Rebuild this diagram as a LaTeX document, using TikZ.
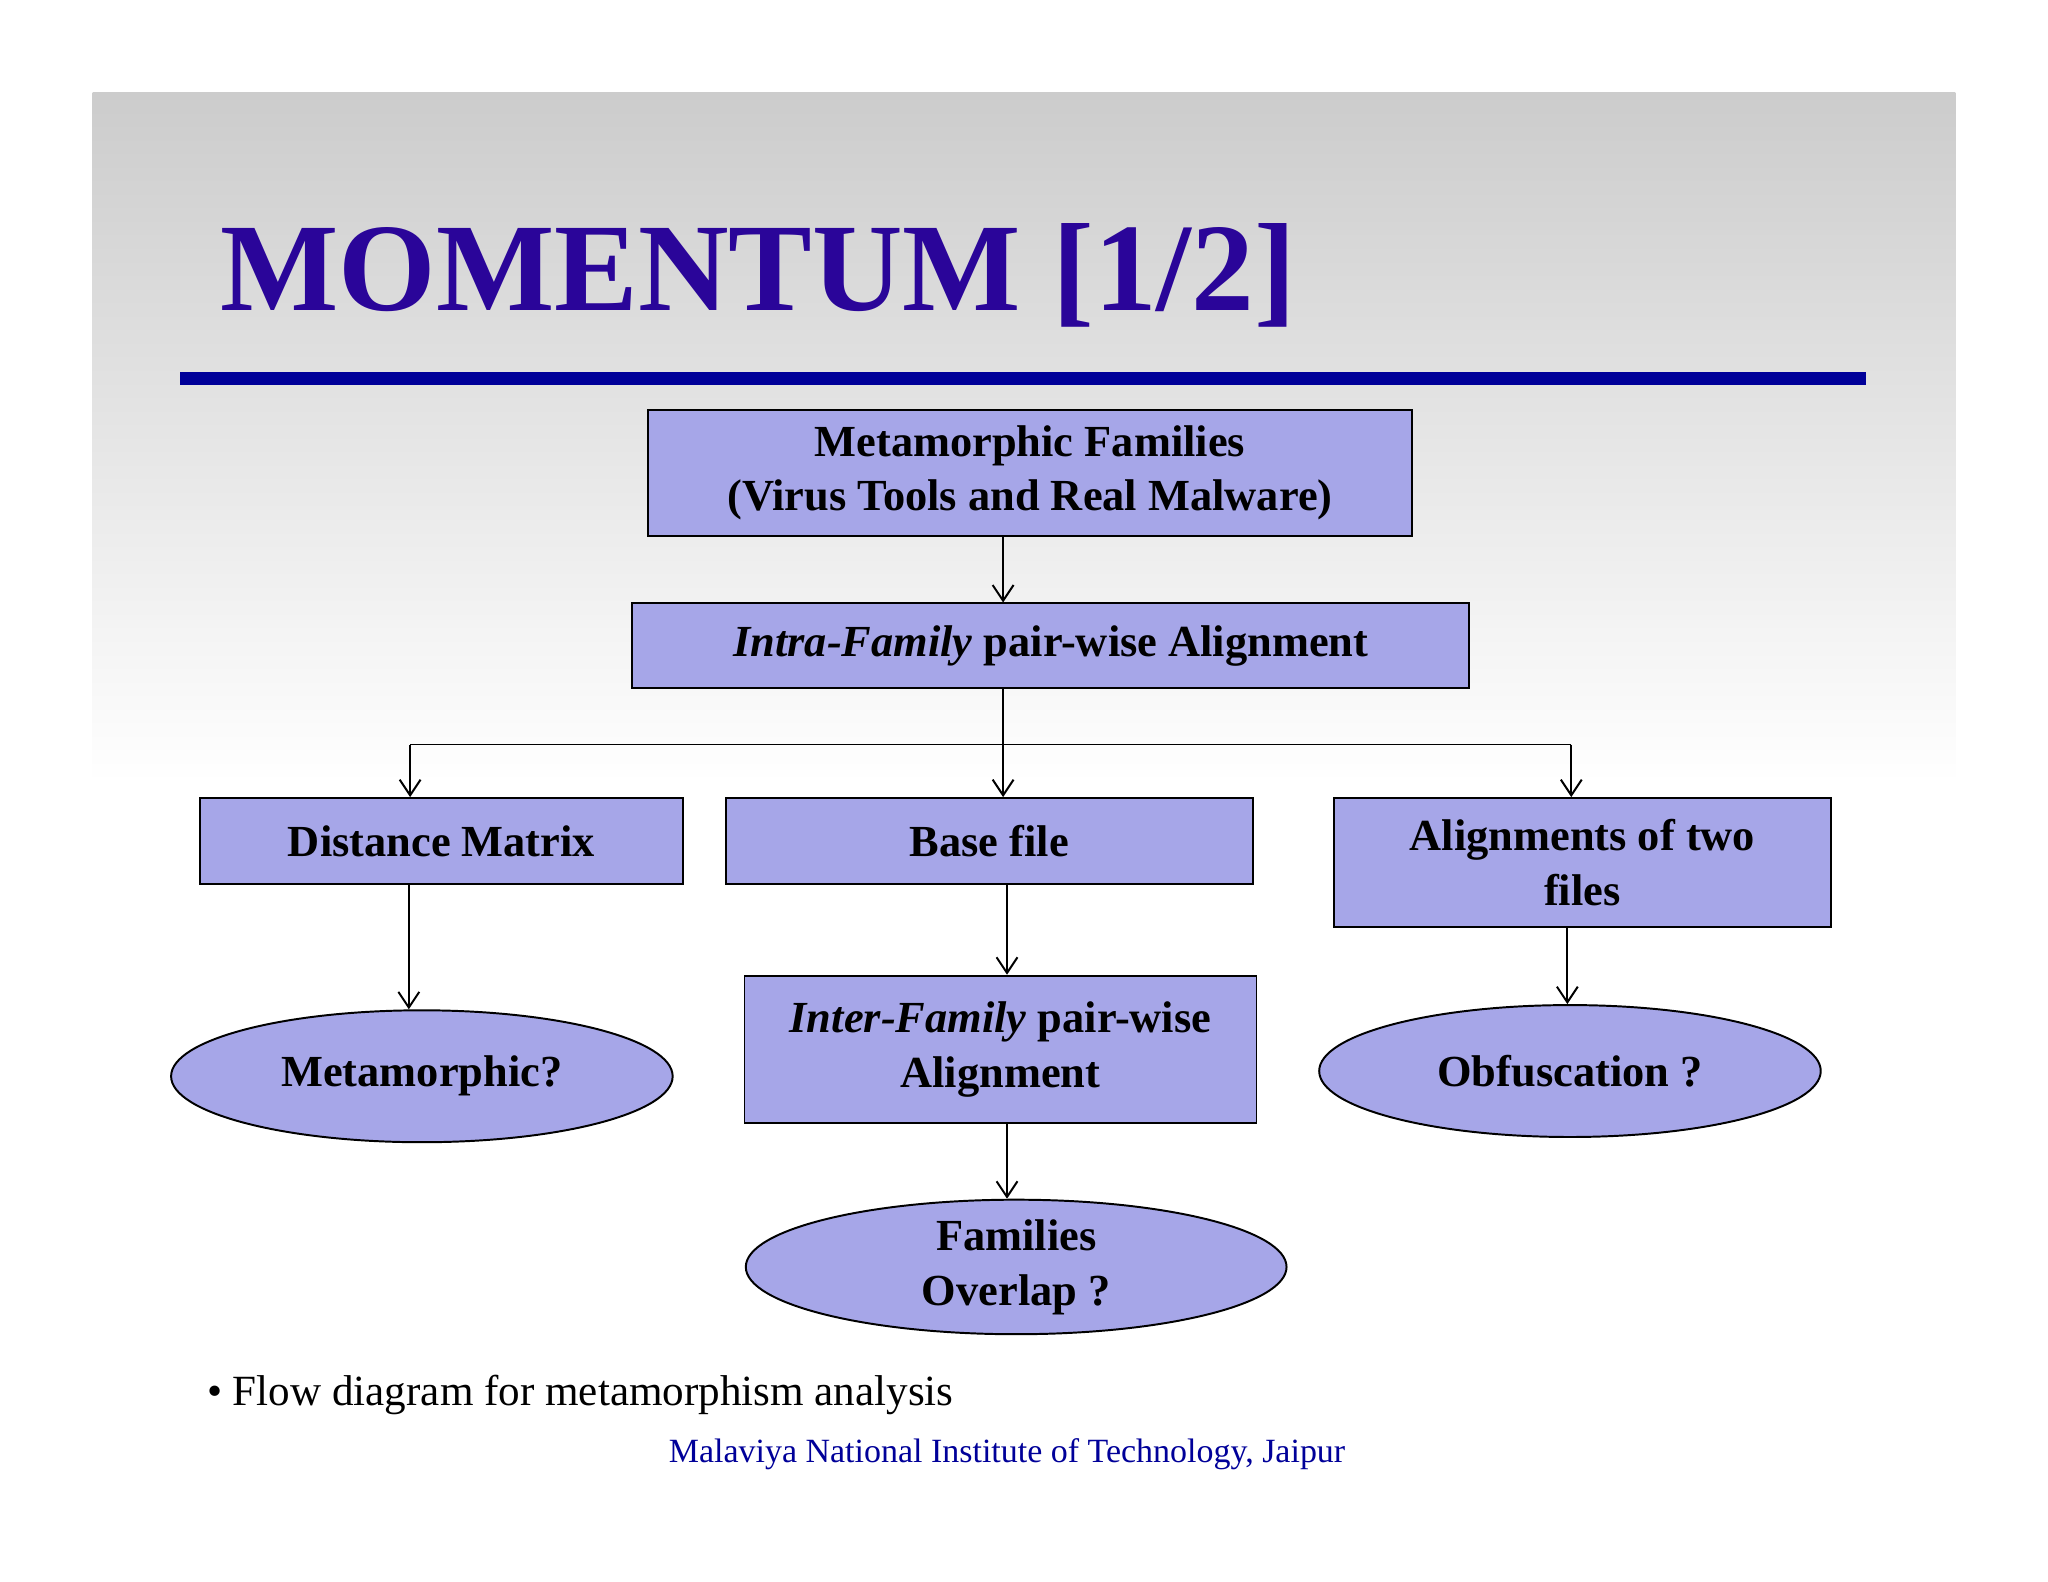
\documentclass[tikz,border=0pt]{standalone}
\usepackage{fontspec}
\setmainfont{Liberation Serif}
\usetikzlibrary{shapes.geometric,arrows.meta}
\definecolor{boxfill}{HTML}{A6A6E8}
\definecolor{titlec}{HTML}{2A0599}
\definecolor{rulec}{HTML}{000099}
\tikzset{
  bx/.style={draw, fill=boxfill, line width=1.5pt, font=\bfseries\fontsize{34}{42}\selectfont, align=center, inner sep=0pt},
  el/.style={draw, fill=boxfill, ellipse, line width=1.5pt, font=\bfseries\fontsize{34}{42}\selectfont, align=center, inner sep=0pt},
  ar/.style={line width=1.5pt, -{Straight Barb[length=12pt,width=16pt]}}
}
\begin{document}
\begin{tikzpicture}[x=1pt,y=-1pt]
\useasboundingbox (0,0) rectangle (1568,1211);
\fill[white] (0,0) rectangle (1568,1211);
\shade[top color=black!20, bottom color=white] (71,71) rectangle (1497,600);
\node[font=\bfseries\fontsize{96}{100}\selectfont, text=titlec, anchor=base west] (title) at (165,238) {MOMENTUM [1/2]};
\fill[rulec] (138,285) rectangle (1429,295);
\node[bx, minimum width=585, minimum height=96] (fam) at (788.5,362) {Metamorphic Families\\(Virus Tools and Real Malware)};
\node[bx, minimum width=641, minimum height=65] (intra) at (804.5,494.5) {\textit{Intra-Family} pair-wise Alignment};
\node[bx, minimum width=370, minimum height=66] (dist) at (338,644) {Distance Matrix};
\node[bx, minimum width=403, minimum height=66] (base) at (757.5,644) {Base file};
\node[bx, minimum width=381, minimum height=99] (align) at (1211.5,660.5) {Alignments of two\\files};
\node[bx, minimum width=392, minimum height=113] (inter) at (766,803.5) {\textit{Inter-Family} pair-wise\\Alignment};
\node[el, minimum width=384, minimum height=101] (meta) at (323,824) {Metamorphic?};
\node[el, minimum width=384, minimum height=101] (obf) at (1202,820) {Obfuscation ?};
\node[el, minimum width=414, minimum height=101] (over) at (778,970) {Families\\Overlap ?};
\coordinate (j) at (768,570);
\coordinate (jl) at (314,570);
\coordinate (jr) at (1203,570);
\draw[ar] (fam.south -| j) -- (intra.north -| j);
\draw[line width=1.5pt] (intra.south -| j) -- (j);
\draw[line width=1.5pt] (jl) -- (jr);
\draw[ar] (j) -- (base.north -| j);
\draw[ar] (jl) -- (dist.north -| jl);
\draw[ar] (jr) -- (align.north -| jr);
\draw[ar] (dist.south -| 313,0) -- (meta.north -| 313,0);
\draw[ar] (base.south -| 771,0) -- (inter.north -| 771,0);
\draw[ar] (align.south -| 1200,0) -- (obf.north -| 1200,0);
\draw[ar] (inter.south -| 771,0) -- (over.north -| 771,0);
\node[anchor=base west, font=\fontsize{33}{40}\selectfont] (cap) at (155,1076) {• Flow diagram for metamorphism analysis};
\node[anchor=base, text=rulec, font=\fontsize{26}{30}\selectfont] (foot) at (771,1120) {Malaviya National Institute of Technology, Jaipur};
\end{tikzpicture}
\end{document}
